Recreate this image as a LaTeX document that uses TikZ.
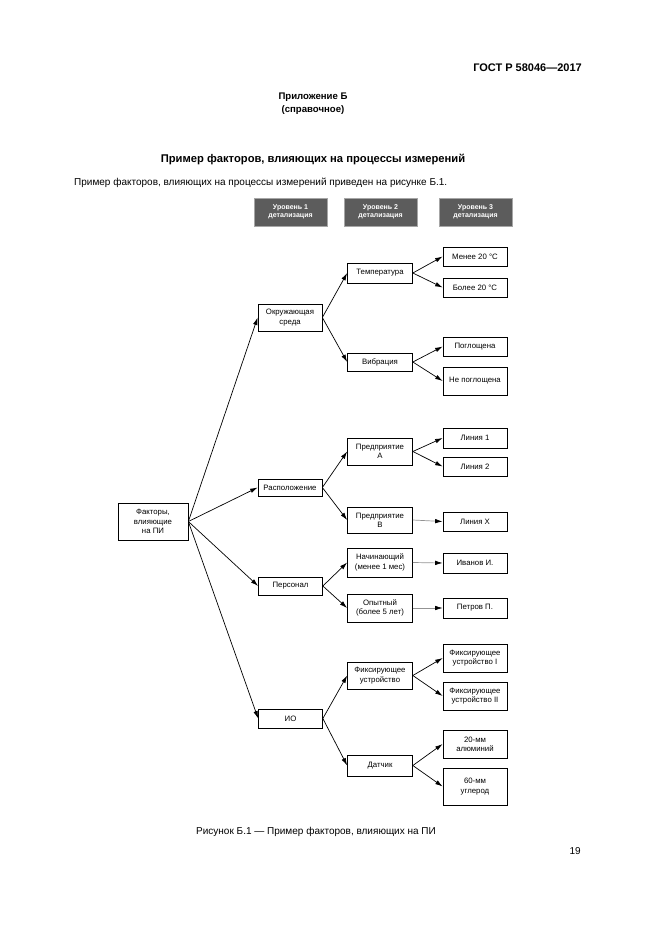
\documentclass[tikz,border=0pt]{standalone}
\usepackage{fontspec}
\setmainfont{Liberation Sans}
\usetikzlibrary{arrows.meta}
\definecolor{hdrgray}{RGB}{92,92,92}
\begin{document}
\begin{tikzpicture}[x=1pt,y=-1pt,
  box/.style={draw,line width=0.7pt,inner sep=0pt,align=center,font=\fontsize{7.8}{9.2}\selectfont},
  lvl/.style={fill=hdrgray,draw=gray!70,line width=0.5pt,inner sep=0pt,align=center,text=white,
     minimum width=73pt,minimum height=28pt,font=\bfseries\fontsize{7}{8.4}\selectfont},
  w1/.style={box,minimum width=64pt},
  w2/.style={box,minimum width=65pt},
  w3/.style={box,minimum width=64pt},
  arr/.style={line width=0.7pt,-{Latex[length=7.5pt,width=4.5pt,color=black]}},
  garr/.style={arr,draw=gray!85},
  txt/.style={inner sep=0pt}
]
\useasboundingbox (0,0) rectangle (661,935);

% page texts
\node[txt,anchor=east,font=\bfseries\fontsize{11}{13}\selectfont] (gost) at (582,68) {ГОСТ Р 58046—2017};
\node[align=center,font=\bfseries\fontsize{9.6}{12.5}\selectfont] (app) at (313,103.5) {Приложение Б\\(справочное)};
\node[font=\bfseries\fontsize{11.2}{13}\selectfont] (title) at (313,159) {Пример факторов, влияющих на процессы измерений};
\node[txt,anchor=west,font=\fontsize{10}{12}\selectfont] (intro) at (74,183) {Пример факторов, влияющих на процессы измерений приведен на рисунке Б.1.};
\node[txt,anchor=west,font=\fontsize{10}{12}\selectfont] (cap) at (196,832) {Рисунок Б.1 — Пример факторов, влияющих на ПИ};
\node[txt,anchor=east,font=\fontsize{10}{12}\selectfont] (pg) at (581,851) {19};

% level headers
\node[lvl] (h1) at (290.5,212) {Уровень 1\\детализация};
\node[lvl] (h2) at (380.5,212) {Уровень 2\\детализация};
\node[lvl] (h3) at (475.5,212) {Уровень 3\\детализация};

% root
\node[box,minimum width=70pt,minimum height=37pt] (root) at (153,521.5) {Факторы,\\влияющие\\на ПИ};

% level 1
\node[w1,minimum height=27pt] (env) at (290,317.5) {Окружающая\\среда};
\node[w1,minimum height=17pt] (loc) at (290,487.5) {Расположение};
\node[w1,minimum height=18pt] (pers) at (290.5,586) {Персонал};
\node[w1,minimum height=19pt] (io) at (290.5,718.5) {ИО};

% level 2
\node[w2,minimum height=20pt] (temp) at (380,273) {Температура};
\node[w2,minimum height=18pt] (vib) at (380,362) {Вибрация};
\node[w2,minimum height=27pt] (entA) at (380,451.5) {Предприятие\\А};
\node[w2,minimum height=26pt] (entB) at (380,520) {Предприятие\\В};
\node[w2,minimum height=29pt] (beg) at (380,562.5) {Начинающий\\(менее 1 мес)};
\node[w2,minimum height=28pt] (exp) at (380,608) {Опытный\\(более 5 лет)};
\node[w2,minimum height=27pt] (fix) at (380,675.5) {Фиксирующее\\устройство};
\node[w2,minimum height=21pt] (sens) at (380,765.5) {Датчик};

% level 3
\node[w3,minimum height=19pt] (lt) at (475,256.5) {Менее 20 °С};
\node[w3,minimum height=19pt] (gt) at (475,287.5) {Более 20 °С};
\node[w3,minimum height=19pt] (abs) at (475,346.5) {Поглощена};
\node[w3,minimum height=28pt] (nabs) at (475,381) {Не поглощена};
\node[w3,minimum height=20pt] (l1) at (475,438) {Линия 1};
\node[w3,minimum height=19pt] (l2) at (475,466.5) {Линия 2};
\node[w3,minimum height=19pt] (lx) at (475,521.5) {Линия Х};
\node[w3,minimum height=20pt] (iv) at (475,563) {Иванов И.};
\node[w3,minimum height=20pt] (pt) at (475,608) {Петров П.};
\node[w3,minimum height=28pt] (f1) at (475,658) {Фиксирующее\\устройство I};
\node[w3,minimum height=28pt] (f2) at (475,696) {Фиксирующее\\устройство II};
\node[w3,minimum height=28pt] (al) at (475,744) {20-мм\\алюминий};
\node[w3,minimum height=37pt] (cb) at (475,786.5) {60-мм\\углерод};

% arrows root -> level 1
\foreach \t in {env,loc,pers,io} \draw[arr] (root.east) -- (\t.west);
% level 1 -> level 2
\draw[arr] (env.east) -- (temp.west);
\draw[arr] (env.east) -- (vib.west);
\draw[arr] (loc.east) -- (entA.west);
\draw[arr] (loc.east) -- (entB.west);
\draw[arr] (pers.east) -- (beg.west);
\draw[arr] (pers.east) -- (exp.west);
\draw[arr] (io.east) -- (fix.west);
\draw[arr] (io.east) -- (sens.west);
% level 2 -> level 3
\draw[arr] (temp.east) -- (lt.west);
\draw[arr] (temp.east) -- (gt.west);
\draw[arr] (vib.east) -- (abs.west);
\draw[arr] (vib.east) -- (nabs.west);
\draw[arr] (entA.east) -- (l1.west);
\draw[arr] (entA.east) -- (l2.west);
\draw[garr] (entB.east) -- (lx.west);
\draw[garr] (beg.east) -- (iv.west);
\draw[garr] (exp.east) -- (pt.west);
\draw[arr] (fix.east) -- (f1.west);
\draw[arr] (fix.east) -- (f2.west);
\draw[arr] (sens.east) -- (al.west);
\draw[arr] (sens.east) -- (cb.west);
\end{tikzpicture}
\end{document}
